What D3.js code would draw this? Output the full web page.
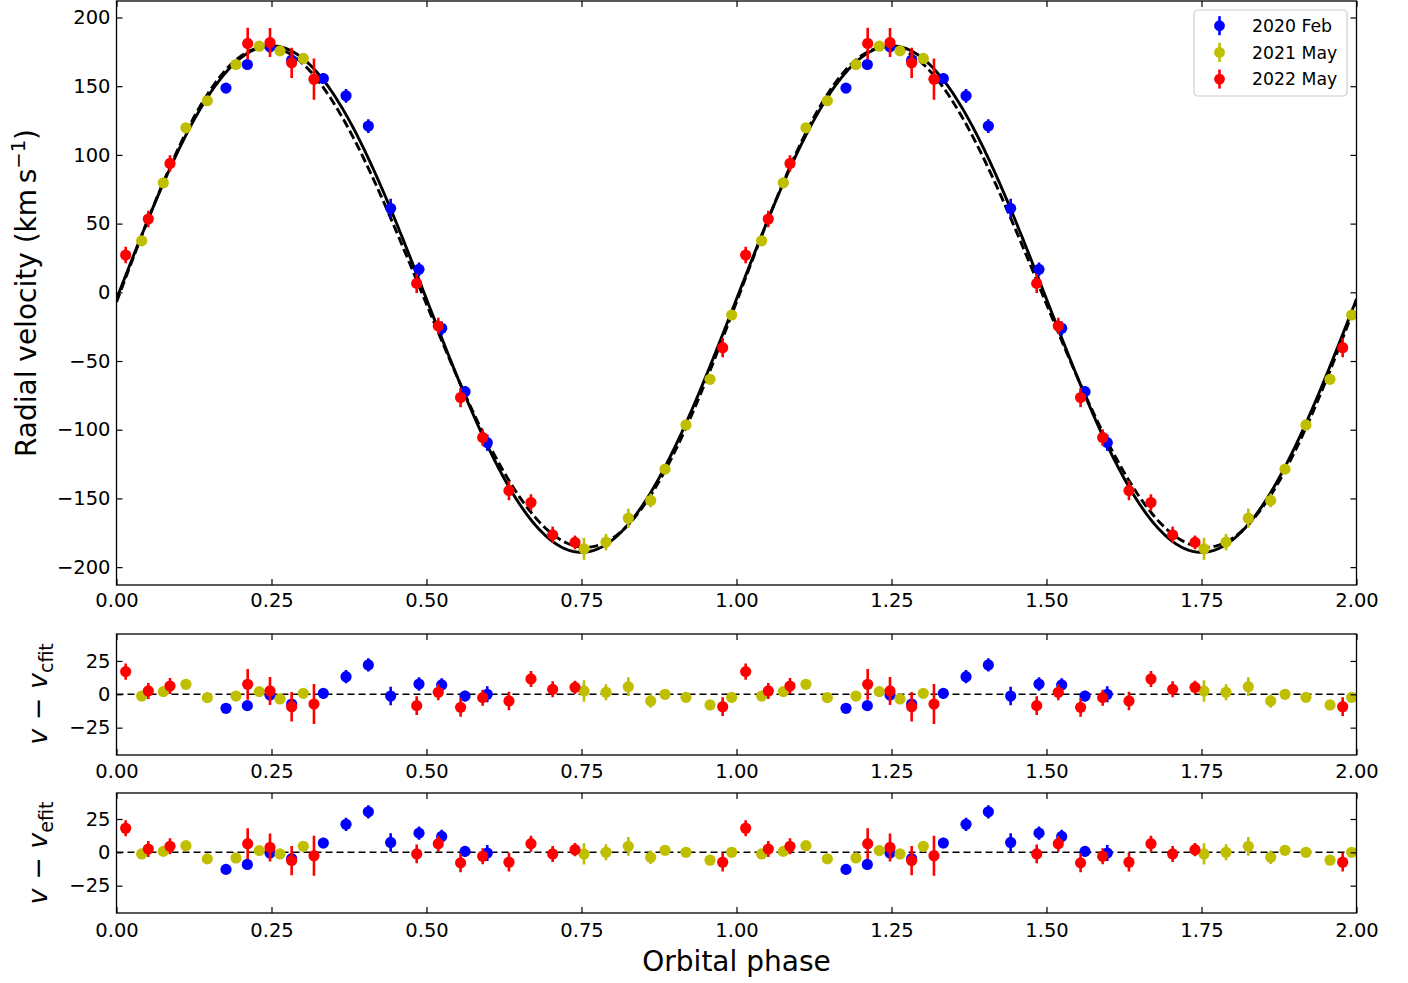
<!DOCTYPE html>
<html><head><meta charset="utf-8">
<script src="https://cdn.jsdelivr.net/npm/d3@7"></script>
<style>
body{margin:0;background:#fff;}
svg{display:block;font-family:"DejaVu Sans",sans-serif;}
</style></head><body><svg id="c" width="1408" height="983"></svg>
<script>
// ---------------- data (phase in one cycle; drawn at phase and phase+1) ----------------
const seriesNames = ["2020 Feb", "2021 May", "2022 May"];
const seriesColors = ["#0000ff", "#bfbf00", "#ff0000"];

const phaseFeb = [0.1766, 0.211, 0.2476, 0.2825, 0.3336, 0.3702, 0.4062, 0.4422, 0.4879, 0.5245, 0.5621, 0.598];
const rvFeb    = [148.6, 165.8, 178.6, 169.0, 155.6, 143.0, 121.0, 61.1, 16.7, -26.2, -72.3, -109.4];
const errFeb   = [3.5, 3.5, 4, 4, 4, 5, 5, 7, 5, 5, 4, 6];
const resCFeb  = [-10.5, -8.5, -0.5, -7.3, 0.7, 13.2, 22.0, -1.3, 7.7, 7.0, -1.3, 0.0];
const resEFeb  = [-12.8, -9.1, -0.5, -4.7, 7.0, 21.0, 30.4, 7.4, 14.4, 11.9, 0.7, -0.5];

const phaseMay21 = [0.0406, 0.0755, 0.112, 0.1465, 0.1927, 0.2303, 0.2637, 0.3013, 0.754, 0.7895, 0.8255, 0.8616, 0.8847, 0.9185, 0.9573, 0.9922];
const rvMay21    = [37.5, 79.7, 119.7, 139.4, 165.8, 179.1, 175.7, 170.2, -186.7, -181.8, -164.4, -151.5, -128.7, -96.5, -63.3, -16.5];
const errMay21   = [3, 3, 3, 3, 3, 3, 3, 3, 8, 6, 7, 5, 3, 3, 3, 3];
const resCMay21  = [-1.3, 2.0, 7.5, -2.5, -1.3, 2.0, -3.5, 0.7, 2.5, 1.5, 5.7, -5.0, 0.0, -2.3, -8.0, -2.3];
const resEMay21  = [-1.2, 0.7, 5.0, -4.9, -4.2, 1.3, -1.2, 4.5, -1.2, 0.0, 4.5, -3.7, 1.5, 0.0, -5.9, 0.0];

const phaseMay22 = [0.0148, 0.0513, 0.0863, 0.2116, 0.2476, 0.2825, 0.3185, 0.4842, 0.519, 0.555, 0.5906, 0.633, 0.6685, 0.7035, 0.7395, 0.9777];
const rvMay22    = [27.1, 53.3, 93.8, 181.1, 181.8, 167.0, 155.1, 6.5, -24.5, -76.6, -105.7, -144.3, -153.0, -176.5, -182.0, -40.3];
const errMay22   = [6, 6, 6, 11.5, 10.5, 11, 15, 7, 6, 7, 6, 7, 6, 6, 5, 7];
const resCMay22  = [17.0, 2.5, 6.2, 7.5, 2.5, -9.3, -7.3, -8.5, 1.5, -9.8, -2.5, -5.0, 11.5, 3.7, 5.2, -9.3];
const resEMay22  = [18.1, 2.5, 4.5, 6.5, 3.7, -6.2, -2.5, -1.2, 6.5, -7.9, -3.0, -7.4, 6.5, -1.2, 2.0, -7.4];

// fit parameters: circular (solid) and eccentric (dashed, as Fourier terms added to circular)
const circularFit = {gamma: -4.9, K: 184.3};
const eccentricTerms = {offset: -0.75, a1: 2.5, p1: 0.8, a2: 4.5, p2: 0.165};

const xTicks = [0, 0.25, 0.5, 0.75, 1.0, 1.25, 1.5, 1.75, 2.0];
const yTicksMain = [-200, -150, -100, -50, 0, 50, 100, 150, 200];
const yTicksRes = [-25, 0, 25];

// ---------------- build ----------------
const series = [
  {name: seriesNames[0], color: seriesColors[0], ph: phaseFeb, rv: rvFeb, err: errFeb, rc: resCFeb, re: resEFeb},
  {name: seriesNames[1], color: seriesColors[1], ph: phaseMay21, rv: rvMay21, err: errMay21, rc: resCMay21, re: resEMay21},
  {name: seriesNames[2], color: seriesColors[2], ph: phaseMay22, rv: rvMay22, err: errMay22, rc: resCMay22, re: resEMay22}
];
function circ(p){ return circularFit.gamma + circularFit.K*Math.sin(2*Math.PI*p); }
function ecc(p){
  const t = eccentricTerms;
  return circ(p) + t.offset + t.a1*Math.cos(2*Math.PI*(p-t.p1)) + t.a2*Math.cos(4*Math.PI*(p-t.p2));
}

const svg = d3.select("#c");
const X0 = 116.5, X1 = 1356.5;
const x = d3.scaleLinear().domain([0, 2]).range([X0, X1]);

const panels = [
  {top: 1, bottom: 585, dom: [-213, 212], ticks: yTicksMain, key: "rv", pad: 8},
  {top: 634, bottom: 755, dom: [-45.5, 45.2], ticks: yTicksRes, key: "rc", pad: 9},
  {top: 793, bottom: 913, dom: [-45.5, 44.5], ticks: yTicksRes, key: "re", pad: 10}
];

const TICK = 6, FS = "19.5px";

panels.forEach((P, i) => {
  const y = d3.scaleLinear().domain(P.dom).range([P.bottom, P.top]);
  const g = svg.append("g");
  const clipId = "clip" + i;
  svg.append("clipPath").attr("id", clipId).append("rect")
    .attr("x", X0).attr("y", P.top).attr("width", X1 - X0).attr("height", P.bottom - P.top);
  const plot = g.append("g").attr("clip-path", `url(#${clipId})`);

  if (i === 0) {
    const pts = d3.range(0, 2.0001, 0.002);
    const line = d3.line().x(d => x(d[0])).y(d => y(d[1]));
    plot.append("path").datum(pts.map(p => [p, circ(p)]))
      .attr("d", line).attr("fill", "none").attr("stroke", "#000").attr("stroke-width", 2.9);
    plot.append("path").datum(pts.map(p => [p, ecc(p)]))
      .attr("d", line).attr("fill", "none").attr("stroke", "#000").attr("stroke-width", 2.9)
      .attr("stroke-dasharray", "9,4");
  } else {
    plot.append("line").attr("x1", X0).attr("x2", X1).attr("y1", y(0)).attr("y2", y(0))
      .attr("stroke", "#000").attr("stroke-width", 1.5).attr("stroke-dasharray", "7,4");
  }

  series.forEach(s => {
    const rows = [];
    s.ph.forEach((p, j) => {
      [0, 1].forEach(c => rows.push({p: p + c, v: s[P.key][j], e: s.err[j]}));
    });
    const sg = plot.append("g");
    sg.selectAll("line").data(rows).enter().append("line")
      .attr("x1", d => x(d.p)).attr("x2", d => x(d.p))
      .attr("y1", d => y(d.v - d.e)).attr("y2", d => y(d.v + d.e))
      .attr("stroke", s.color).attr("stroke-width", 2.6);
    sg.selectAll("circle").data(rows).enter().append("circle")
      .attr("cx", d => x(d.p)).attr("cy", d => y(d.v)).attr("r", 5.6)
      .attr("fill", s.color);
  });

  // axes
  const xb = g.append("g").attr("transform", `translate(0,${P.bottom})`)
    .call(d3.axisBottom(x).tickValues(xTicks).tickFormat(d3.format(".2f")).tickSizeInner(-TICK).tickSizeOuter(0).tickPadding(P.pad));
  const xt = g.append("g").attr("transform", `translate(0,${P.top})`)
    .call(d3.axisTop(x).tickValues(xTicks).tickFormat("").tickSizeInner(-TICK).tickSizeOuter(0));
  const yl = g.append("g").attr("transform", `translate(${X0},0)`)
    .call(d3.axisLeft(y).tickValues(P.ticks).tickSizeInner(-TICK).tickSizeOuter(0).tickPadding(6));
  const yr = g.append("g").attr("transform", `translate(${X1},0)`)
    .call(d3.axisRight(y).tickValues(P.ticks).tickFormat("").tickSizeInner(-TICK).tickSizeOuter(0));
  [xb, xt, yl, yr].forEach(a => {
    a.select(".domain").remove();
    a.selectAll(".tick line").attr("stroke", "#000").attr("stroke-width", 1.2);
    a.selectAll(".tick text").attr("font-size", FS).attr("fill", "#000").attr("font-family", "DejaVu Sans");
  });
  g.append("rect").attr("x", X0).attr("y", P.top).attr("width", X1 - X0).attr("height", P.bottom - P.top)
    .attr("fill", "none").attr("stroke", "#000").attr("stroke-width", 1.3);
});

// axis labels
const yLab = svg.append("text").attr("transform", "translate(36,293) rotate(-90)")
  .attr("text-anchor", "middle").attr("font-size", "28px").attr("fill", "#000");
yLab.append("tspan").text("Radial velocity (km\u2009s");
yLab.append("tspan").attr("font-size", "19.6px").attr("dy", "-11").text("\u22121");
yLab.append("tspan").attr("dy", "11").text(")");

[{cy: 694, sub: "cfit"}, {cy: 853, sub: "efit"}].forEach(L => {
  const t = svg.append("text").attr("transform", `translate(47,${L.cy}) rotate(-90)`)
    .attr("text-anchor", "middle").attr("font-size", "27px").attr("fill", "#000");
  t.append("tspan").attr("font-style", "italic").text("v");
  t.append("tspan").text(" \u2212 ");
  t.append("tspan").attr("font-style", "italic").text("v");
  t.append("tspan").attr("font-size", "19px").attr("dy", "6").text(L.sub);
});

svg.append("text").attr("x", (X0 + X1) / 2).attr("y", 971).attr("text-anchor", "middle")
  .attr("font-size", "28px").attr("fill", "#000").text("Orbital phase");

// legend
const lg = svg.append("g");
lg.append("rect").attr("x", 1194).attr("y", 10).attr("width", 153).attr("height", 86).attr("rx", 4)
  .attr("fill", "#fff").attr("fill-opacity", 0.8).attr("stroke", "#cccccc").attr("stroke-width", 1.2);
series.forEach((s, i) => {
  const cy = 25.7 + i * 26.7;
  lg.append("line").attr("x1", 1219.5).attr("x2", 1219.5).attr("y1", cy - 9.5).attr("y2", cy + 9.5)
    .attr("stroke", s.color).attr("stroke-width", 2.6);
  lg.append("circle").attr("cx", 1219.5).attr("cy", cy).attr("r", 5.4).attr("fill", s.color);
  lg.append("text").attr("x", 1252).attr("y", cy).attr("dy", "0.36em").attr("font-size", "17.3px")
    .attr("fill", "#000").text(s.name);
});
</script></body></html>
